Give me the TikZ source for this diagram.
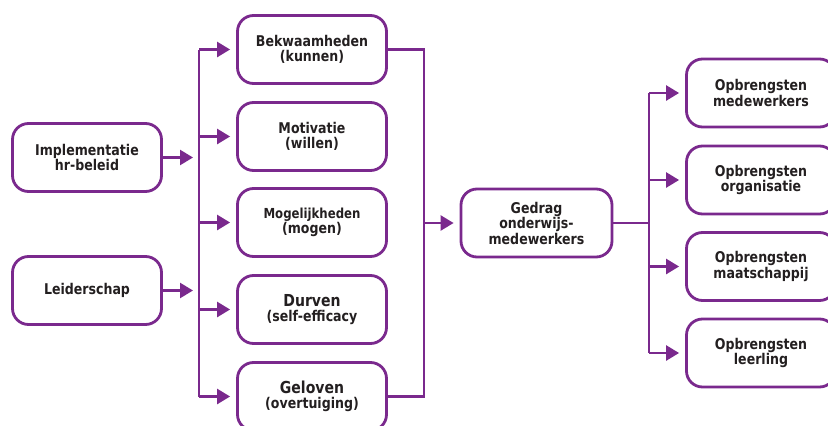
\documentclass[tikz,border=0pt]{standalone}
\usepackage{fontspec}
\setmainfont{DejaVu Sans}[FakeStretch=0.85]
\usetikzlibrary{arrows.meta}
\definecolor{vpurple}{RGB}{122,41,141}
\definecolor{vtext}{RGB}{35,31,32}
\begin{document}
\begin{tikzpicture}[x=1pt,y=-1pt,
  box/.style={draw=vpurple,line width=2.8pt,rounded corners=16pt,
    minimum width=149pt,minimum height=68pt,align=center,text=vtext,
    font=\bfseries\fontsize{14.8}{15.5}\selectfont,inner sep=0pt},
  conn/.style={draw=vpurple,line width=2.5pt},
  arr/.style={conn,-{Triangle[length=13pt,width=15pt]},shorten >=6pt}]
\useasboundingbox (0,0) rectangle (828,426);
\clip (0,0) rectangle (828,426);
% boxes
\node[box] (imp) at (87,157.5) {Implementatie\\hr-beleid};
\node[box] (lei) at (87,290.5) {Leiderschap};
\node[box] (bek) at (312,49.5) {Bekwaamheden\\(kunnen)};
\node[box] (mot) at (312,136.5) {Motivatie\\(willen)};
\node[box] (mog) at (312,222.5) {\fontsize{13.8}{15.5}\selectfont Mogelijkheden\\(mogen)};
\node[box] (dur) at (312,309.5) {{\fontsize{16.5}{16}\selectfont Durven}\\(self-efficacy};
\node[box] (gel) at (312,396.5) {{\fontsize{16.5}{16}\selectfont Geloven}\\(overtuiging)};
\node[box,minimum width=151pt] (ged) at (536.5,223) {Gedrag\\onderwijs-\\medewerkers};
\node[box] (om) at (761,93) {Opbrengsten\\medewerkers};
\node[box] (oo) at (761,180) {Opbrengsten\\organisatie};
\node[box] (oma) at (761,266.5) {Opbrengsten\\maatschappij};
\node[box] (ol) at (761,353) {Opbrengsten\\leerling};
% bus coordinates
\coordinate (L) at (199,0);
\coordinate (R) at (424,0);
\coordinate (S) at (649,0);
% left inputs
\draw[arr] (imp.east) -- (L |- imp);
\draw[arr] (lei.east) -- (L |- lei);
\draw[conn] (L |- bek) -- (L |- gel);
\foreach \n in {bek,mot,mog,dur,gel}
  \draw[arr] (L |- \n) -- (\n.west);
% middle collector
\draw[conn,line join=miter] (bek.east) -- (R |- bek) -- (R |- gel) -- (gel.east);
\draw[arr] (R |- ged) -- (ged.west);
% right outputs
\draw[conn] (ged.east) -- (S |- ged);
\draw[conn] (S |- om) -- (S |- ol);
\foreach \n in {om,oo,oma,ol}
  \draw[arr] (S |- \n) -- (\n.west);
\end{tikzpicture}
\end{document}
